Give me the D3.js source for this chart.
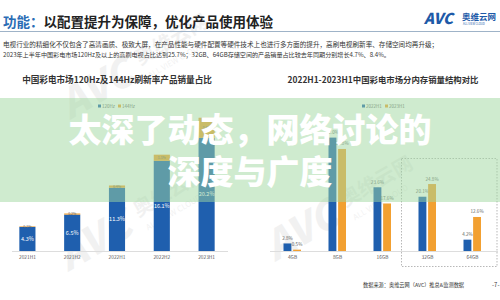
<!DOCTYPE html>
<html>
<head>
<meta charset="utf-8">
<script src="https://cdn.jsdelivr.net/npm/d3@7"></script>
<style>
  body { margin: 0; background: #fff; }
  svg { display: block; font-family: "Noto Sans CJK SC", "Noto Sans", sans-serif; }
</style>
</head>
<body>
<div id="chart"></div>
<script>
// data
var refreshCats = ['2021H1', '2021H2', '2022H1', '2022H2', '2023H1'];
var hz120 = [4.3, 6.5, 11.3, 16.1, 20.2];
var hz144 = [0.1, 0.2, 0.4, 1.1, 3.6];

var memCats = ['4GB', '8GB', '16GB', '32GB', '64GB'];
var mem2022H1 = [2.8, 42.0, 23.6, 20.1, 4.2];
var mem2023H1 = [0.5, 37.8, 17.6, 24.8, 12.6];

var titleHead = '功能：';
var titleRest = '以配置提升为保障，优化产品使用体验';
var introLines = [
  '电视行业的精细化不仅包含了高清画质、极致大屏，在产品性能与硬件配置等硬件技术上也进行多方面的提升，高刷电视刷新率、存储空间均再升级；',
  '2023年上半年中国彩电市场120Hz及以上的高刷电视占比达到25.7%；32GB、64GB存储空间的产品销量占比较去年同期分别增长4.7%、8.4%。'
];
var leftTitle = '中国彩电市场120Hz及144Hz刷新率产品销量占比';
var rightTitle = '2022H1-2023H1中国彩电市场分内存销量结构对比';
var bannerLines = ['太深了动态，网络讨论的', '深度与广度'];
var sourceText = '数据来源：奥维云网（AVC）推总&监测数据';

var blue = '#1f5fae', orange = '#f2a031';
var W = 500, H = 300;

var svg = d3.select('#chart').append('svg').attr('width', W).attr('height', H);

// watermarks (faint)
function watermark(x, y, s) {
  var g = svg.append('g').attr('transform', 'translate(' + x + ',' + y + ') rotate(-30) scale(' + s + ')')
    .attr('fill', '#000').attr('opacity', 0.05);
  g.append('text').attr('font-size', 40).attr('font-weight', 900).attr('font-style', 'italic').text('AVC');
  g.append('text').attr('x', 88).attr('y', -12).attr('font-size', 20).attr('font-weight', 700).text('奥维云网');
  g.append('text').attr('x', 90).attr('y', 4).attr('font-size', 8).text('ALL VIEW CLOUD');
}
watermark(68, 272, 1);
watermark(275, 262, 1);
watermark(70, 120, 1);

// header
var title = svg.append('text').attr('x', 3).attr('y', 26.5)
  .attr('font-size', 13.5).attr('font-weight', 700);
title.append('tspan').attr('fill', '#2a6db5').text(titleHead);
title.append('tspan').attr('fill', '#222').text(titleRest);

svg.append('line').attr('x1', 0).attr('x2', W).attr('y1', 31.5).attr('y2', 31.5)
  .attr('stroke', '#9fb3c8').attr('stroke-width', 1);

// logo
svg.append('text').attr('x', 424).attr('y', 24).attr('font-size', 15).attr('font-weight', 900)
  .attr('font-style', 'italic').attr('fill', '#1e5aa8').text('AVC');
svg.append('text').attr('x', 462).attr('y', 19.5).attr('font-size', 8.5).attr('font-weight', 700)
  .attr('fill', '#1e5aa8').text('奥维云网');
svg.append('text').attr('x', 463).attr('y', 25).attr('font-size', 2.8)
  .attr('fill', '#1e5aa8').text('ALL VIEW CLOUD');

var introSizes = [6.6, 6.1];
svg.selectAll('.intro').data(introLines).enter().append('text')
  .attr('class', 'intro')
  .attr('x', 3).attr('y', function (d, i) { return 46.5 + i * 10.5; })
  .attr('font-size', function (d, i) { return introSizes[i]; })
  .attr('fill', '#333').text(function (d) { return d; });

// chart titles
svg.append('text').attr('x', 117).attr('y', 83).attr('text-anchor', 'middle')
  .attr('font-size', 8.6).attr('font-weight', 700).attr('fill', '#333').text(leftTitle);
svg.append('text').attr('x', 383).attr('y', 83).attr('text-anchor', 'middle')
  .attr('font-size', 8.4).attr('font-weight', 700).attr('fill', '#333').text(rightTitle);

// legends
function legend(x, y, items) {
  var g = svg.append('g').attr('transform', 'translate(' + x + ',' + y + ')');
  var off = 0;
  items.forEach(function (it) {
    g.append('rect').attr('x', off).attr('y', -1.5).attr('width', 3).attr('height', 3).attr('fill', it.c);
    g.append('text').attr('x', off + 4).attr('y', 1.6).attr('font-size', 4.5).attr('fill', '#666').text(it.t);
    off += it.w;
  });
}
legend(98, 106, [{ c: blue, t: '120Hz', w: 20 }, { c: orange, t: '144Hz', w: 20 }]);
legend(362, 106, [{ c: blue, t: '2022H1', w: 23 }, { c: orange, t: '2023H1', w: 23 }]);

// left chart: stacked bars
var base = 251;
var xL = d3.scaleBand().domain(refreshCats).range([5, 229]).paddingInner(0.64).paddingOuter(0.32);
var yL = d3.scaleLinear().domain([0, 30]).range([base, base - 168]);

svg.append('line').attr('x1', 12).attr('x2', 228).attr('y1', base + 0.5).attr('y2', base + 0.5)
  .attr('stroke', '#ddd');

var leftG = svg.append('g');
leftG.selectAll('.b120').data(refreshCats).enter().append('rect')
  .attr('x', function (d) { return xL(d); })
  .attr('y', function (d, i) { return yL(hz120[i]); })
  .attr('width', xL.bandwidth())
  .attr('height', function (d, i) { return base - yL(hz120[i]); })
  .attr('fill', blue);
leftG.selectAll('.b144').data(refreshCats).enter().append('rect')
  .attr('x', function (d) { return xL(d); })
  .attr('y', function (d, i) { return yL(hz120[i] + hz144[i]); })
  .attr('width', xL.bandwidth())
  .attr('height', function (d, i) { return yL(hz120[i]) - yL(hz120[i] + hz144[i]); })
  .attr('fill', orange);
leftG.selectAll('.l120').data(refreshCats).enter().append('text')
  .attr('x', function (d) { return xL(d) + xL.bandwidth() / 2; })
  .attr('y', function (d, i) { return (base + yL(hz120[i])) / 2 + 2; })
  .attr('text-anchor', 'middle').attr('font-size', 5.5).attr('fill', '#fff')
  .text(function (d, i) { return hz120[i].toFixed(1) + '%'; });
leftG.selectAll('.l144').data(refreshCats).enter().append('text')
  .attr('x', function (d) { return xL(d) + xL.bandwidth() / 2; })
  .attr('y', function (d, i) { return (yL(hz120[i]) + yL(hz120[i] + hz144[i])) / 2 + 1; })
  .attr('text-anchor', 'middle').attr('font-size', 3.5).attr('fill', '#666')
  .text(function (d, i) { return hz144[i].toFixed(1) + '%'; });
leftG.selectAll('.xl').data(refreshCats).enter().append('text')
  .attr('x', function (d) { return xL(d) + xL.bandwidth() / 2; })
  .attr('y', 258.5).attr('text-anchor', 'middle').attr('font-size', 4.8).attr('fill', '#555')
  .text(function (d) { return d; });

// right chart: grouped bars
var xR = d3.scaleBand().domain(memCats).range([270, 495]);
var xS = d3.scaleBand().domain(['2022H1', '2023H1']).range([0, 17.5]).paddingInner(0.18);
var yR = d3.scaleLinear().domain([0, 50]).range([base, base - 135]);
var off0 = xR.bandwidth() / 2 - 9;

svg.append('line').attr('x1', 270).attr('x2', 498).attr('y1', base + 0.5).attr('y2', base + 0.5)
  .attr('stroke', '#ddd');

var series = [{ k: '2022H1', v: mem2022H1, c: blue }, { k: '2023H1', v: mem2023H1, c: orange }];
var rightG = svg.append('g');
series.forEach(function (s) {
  rightG.selectAll(null).data(memCats).enter().append('rect')
    .attr('x', function (d) { return xR(d) + off0 + xS(s.k); })
    .attr('y', function (d, i) { return yR(s.v[i]); })
    .attr('width', xS.bandwidth())
    .attr('height', function (d, i) { return base - yR(s.v[i]); })
    .attr('fill', s.c);
  rightG.selectAll(null).data(memCats).enter().append('text')
    .attr('x', function (d) { return xR(d) + off0 + xS(s.k) + xS.bandwidth() / 2; })
    .attr('y', function (d, i) { return yR(s.v[i]) - 3.5; })
    .attr('text-anchor', 'middle').attr('font-size', 4.6).attr('fill', '#666')
    .text(function (d, i) { return s.v[i].toFixed(1) + '%'; });
});
rightG.selectAll('.xr').data(memCats).enter().append('text')
  .attr('x', function (d) { return xR(d) + xR.bandwidth() / 2; })
  .attr('y', 258.5).attr('text-anchor', 'middle').attr('font-size', 4.8).attr('fill', '#555')
  .text(function (d) { return d; });

// dashed highlight around 32GB / 64GB
svg.append('rect').attr('x', xR('32GB') - 3.5).attr('y', 158.5)
  .attr('width', 497 - xR('32GB') + 3.5).attr('height', 108)
  .attr('fill', 'none').attr('stroke', '#999').attr('stroke-dasharray', '1.5,1.5').attr('stroke-width', 0.7);

// footer
svg.append('text').attr('x', 363).attr('y', 287).attr('font-size', 5.2).attr('fill', '#333').text(sourceText);
svg.append('text').attr('x', 492).attr('y', 287).attr('font-size', 6).attr('fill', '#333').text('-7-');

// green overlay band with headline
svg.append('rect').attr('x', 0).attr('y', 98).attr('width', W).attr('height', 104)
  .attr('fill', 'rgb(160,215,160)').attr('opacity', 0.5);

svg.selectAll('.banner').data(bannerLines).enter().append('text')
  .attr('class', 'banner')
  .attr('x', 250).attr('y', function (d, i) { return 142 + i * 42; })
  .attr('text-anchor', 'middle').attr('font-size', 33).attr('font-weight', 900)
  .attr('fill', '#fff').text(function (d) { return d; });
</script>
</body>
</html>
